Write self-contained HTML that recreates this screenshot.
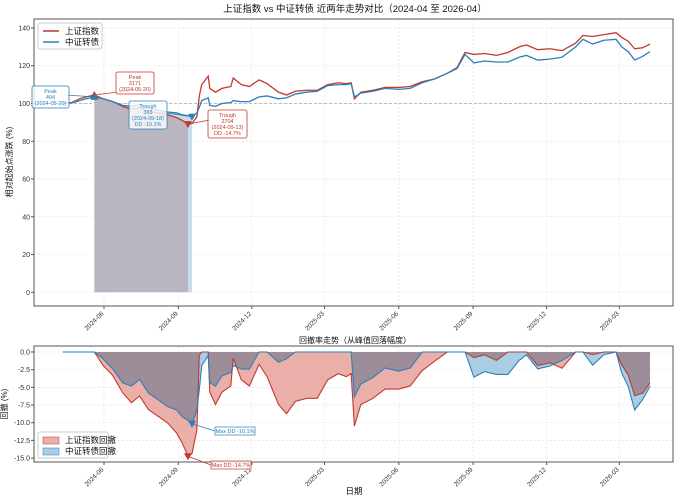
<!DOCTYPE html>
<html><head><meta charset="utf-8"><style>
body{margin:0;background:#fff}
svg{display:block;font-family:"Liberation Sans","Noto Sans CJK SC",sans-serif}
</style></head><body>
<svg id="c" width="683" height="500" viewBox="0 0 683 500"></svg>
<script>
const dates=["2024-04-11","2024-04-22","2024-05-02","2024-05-10","2024-05-20","2024-05-31","2024-06-12","2024-06-24","2024-07-05","2024-07-15","2024-07-26","2024-08-07","2024-08-19","2024-08-30","2024-09-06","2024-09-13","2024-09-18","2024-09-24","2024-09-27","2024-09-30","2024-10-08","2024-10-10","2024-10-17","2024-10-25","2024-11-05","2024-11-08","2024-11-18","2024-11-28","2024-12-10","2024-12-20","2025-01-03","2025-01-13","2025-01-24","2025-02-07","2025-02-20","2025-03-05","2025-03-18","2025-03-28","2025-04-03","2025-04-07","2025-04-15","2025-04-30","2025-05-15","2025-06-01","2025-06-15","2025-06-30","2025-07-15","2025-07-31","2025-08-12","2025-08-22","2025-09-02","2025-09-15","2025-09-30","2025-10-14","2025-10-28","2025-11-06","2025-11-20","2025-12-05","2025-12-20","2026-01-06","2026-01-15","2026-01-27","2026-02-10","2026-02-25","2026-03-04","2026-03-12","2026-03-20","2026-03-30","2026-04-08"];
const shIndex=[100,100.5,102.5,103.5,104.5,102.5,101,98.5,97,98,96,95,94,92.5,91,89.1,89.5,93,104,110,114.5,108,106,108,109,113.5,110,109,112.5,110.5,106,104.5,106.5,107,107,110,111,110.5,111,102.5,106,107,108.5,108.5,109,111.5,113,116,119,127,126,126.5,125.5,127,130,131,128.5,129,128,132,136,135.5,136.5,137.5,135,133,129,129.5,131.5];
const cbIndex=[100,100.3,101.5,102.5,103.5,102.5,101,99,98.5,99.5,97.5,96.5,95.5,95,94,93.5,93,95,98,101.5,103,99,98.5,100,100.5,101.5,101,101,103.5,104,102.5,103,105,106,106.5,109.5,110,110,110.5,103.5,105.5,106.5,108,107.5,108,111,113,116,118.5,126,121.5,122.5,122,122,124.5,125.5,123,123.5,124.5,130,134,131.5,133.5,134,130,127.5,123,125,127.5];
const topTicks=[0,20,40,60,80,100,120,140];
const ddTicks=[0,-2.5,-5,-7.5,-10,-12.5,-15];
const xTickLabels=["2024-06","2024-09","2024-12","2025-03","2025-06","2025-09","2025-12","2026-03"];

const NS="http://www.w3.org/2000/svg",svg=document.getElementById('c');
function el(t,a,p){const e=document.createElementNS(NS,t);for(const k in a)e.setAttribute(k,a[k]);(p||svg).appendChild(e);return e;}
const day0=Date.parse("2024-06-01");
function X(d){return 104+(Date.parse(d)-day0)/864e5*0.8077;}
function YT(v){return 292.3-v*1.888;}
function YB(v){return 352-v*(-7.07)*-1;}
function YD(v){return 352-v*7.07*-1*-1;}
// YD: dd value (negative) -> pixel
function yd(v){return 352-v*7.07;}
const RED="#c0392b",BLUE="#2a80b9";
const L={x0:34,x1:673,t0:19,t1:306,b0:346,b1:462};

// grids
for(const t of xTickLabels){const x=X(t+"-01");
 for(const [a,b] of [[L.t0,L.t1],[L.b0,L.b1]]){const g=el('line',{x1:x,x2:x,y1:a,y2:b,stroke:'#e4e4e4','stroke-dasharray':'2,2','stroke-width':0.7});}}
topTicks.forEach(v=>{const g=el('line',{x1:L.x0,x2:L.x1,y1:YT(v),y2:YT(v),stroke:'#e4e4e4','stroke-dasharray':'2,2','stroke-width':0.7});});
ddTicks.forEach(v=>{const g=el('line',{x1:L.x0,x2:L.x1,y1:yd(v),y2:yd(v),stroke:'#e4e4e4','stroke-dasharray':'2,2','stroke-width':0.7});});
const ref=el('line',{x1:L.x0,x2:L.x1,y1:YT(100),y2:YT(100),stroke:'#aaa','stroke-dasharray':'3,2','stroke-width':0.8});


// peak/trough
function stats(arr){let pk=0,pi=0,best=0,bp=0,bt=0;arr.forEach((v,i)=>{if(v>pk){pk=v;pi=i;}const dd=(v/pk-1)*100;if(dd<best){best=dd;bp=pi;bt=i;}});return{best,bp,bt};}
function ddSeries(arr){let pk=-1;return arr.map(v=>{pk=Math.max(pk,v);return (v/pk-1)*100;});}
const sS=stats(shIndex),sC=stats(cbIndex);

// top fills
const gTop=el('g',{style:'isolation:isolate'});

function regionFill(arr,s,col,name){let p=[];for(let i=s.bp;i<=s.bt;i++)p.push(X(dates[i])+','+YT(arr[i]));p.push(X(dates[s.bt])+','+YT(0));p.push(X(dates[s.bp])+','+YT(0));const f=el('polygon',{points:p.join(' '),fill:col,style:'mix-blend-mode:multiply'},gTop);}
regionFill(cbIndex,sC,'#c8dcea','cb-drawdown-region');
regionFill(shIndex,sS,'#ecd3d4','sh-drawdown-region');

// lines top
function line(arr,col,name){const l=el('polyline',{points:arr.map((v,i)=>X(dates[i])+','+YT(v)).join(' '),fill:'none',stroke:col,'stroke-width':1.3});}
line(shIndex,RED,'sh-index-line');line(cbIndex,BLUE,'cb-index-line');

// bottom fills
const ddS=ddSeries(shIndex),ddC=ddSeries(cbIndex);
const gB=el('g',{style:'isolation:isolate'});

function ddFill(arr,col,name){const p=arr.map((v,i)=>X(dates[i])+','+yd(v));p.push(X(dates[dates.length-1])+','+yd(0));p.push(X(dates[0])+','+yd(0));const f=el('polygon',{points:p.join(' '),fill:col,style:'mix-blend-mode:multiply'},gB);}
ddFill(ddS,'#ebafaa','sh-drawdown-area');ddFill(ddC,'#aacde6','cb-drawdown-area');
function ddLine(arr,col,name){const l=el('polyline',{points:arr.map((v,i)=>X(dates[i])+','+yd(v)).join(' '),fill:'none',stroke:col,'stroke-width':1.1});}
ddLine(ddS,RED,'sh-drawdown-line');ddLine(ddC,BLUE,'cb-drawdown-line');

// frames
[[L.t0,L.t1,'top-axes-frame'],[L.b0,L.b1,'bottom-axes-frame']].forEach(([a,b,n])=>{const r=el('rect',{x:L.x0,y:a,width:L.x1-L.x0,height:b-a,fill:'none',stroke:'#555','stroke-width':1});});

function txt(s,a,name){const t=el('text',Object.assign({'font-size':7,fill:'#333'},a));t.textContent=s;return t;}
topTicks.forEach(v=>{txt(String(v),{x:30,y:YT(v)+2.5,'text-anchor':'end'},'y-tick-label');el('line',{x1:31,x2:34,y1:YT(v),y2:YT(v),stroke:'#555'});});
ddTicks.forEach(v=>{txt(v.toFixed(1),{x:30,y:yd(v)+2.5,'text-anchor':'end'},'dd-y-tick-label');el('line',{x1:31,x2:34,y1:yd(v),y2:yd(v),stroke:'#555'});});
xTickLabels.forEach(t=>{const x=X(t+"-01");
 [[L.t1,'x-tick-label'],[L.b1,'dd-x-tick-label']].forEach(([y,n])=>{el('line',{x1:x,x2:x,y1:y,y2:y+3,stroke:'#555'});txt(t,{x:x,y:y+8,'text-anchor':'end','font-size':6.5,transform:`rotate(-45 ${x} ${y+8})`},n);});});

txt('上证指数 vs 中证转债 近两年走势对比（2024-04 至 2026-04）',{x:355,y:12,'text-anchor':'middle','font-size':9.5,fill:'#111'},'chart-title');
txt('回撤率走势（从峰值回落幅度）',{x:355,y:343,'text-anchor':'middle','font-size':8,fill:'#111'},'drawdown-title');
txt('相对起始点涨跌 (%)',{x:12,y:162,'text-anchor':'middle','font-size':8,fill:'#111',transform:'rotate(-90 12 162)'},'y-axis-title');
txt('回撤 (%)',{x:7,y:404,'text-anchor':'middle','font-size':8,fill:'#111',transform:'rotate(-90 7 404)'},'dd-y-axis-title');
txt('日期',{x:354,y:494,'text-anchor':'middle','font-size':8.5,fill:'#111'},'x-axis-title');

// legends
function legend(x,y,w,items,patch,name){const g=el('g',{});el('rect',{x,y,width:w,height:26,rx:2,fill:'#fff','fill-opacity':0.85,stroke:'#ccc'},g);
 items.forEach((it,i)=>{const yy=y+8+i*11;if(patch)el('rect',{x:x+5,y:yy-3,width:16,height:7,fill:it[2],stroke:it[1],'stroke-width':0.5},g);else el('line',{x1:x+5,x2:x+21,y1:yy,y2:yy,stroke:it[1],'stroke-width':1.5},g);const t=el('text',{x:x+27,y:yy+3,'font-size':8.5,fill:'#111'},g);t.textContent=it[0];});}
legend(38,23,64,[['上证指数',RED],['中证转债',BLUE]],false,'top-legend');
legend(38,432,70,[['上证指数回撤',RED,'#ebafaa'],['中证转债回撤',BLUE,'#aacde6']],true,'dd-legend');

// markers & annotations
function tri(x,y,up,col,name){const p=up?`${x-4},${y+3} ${x+4},${y+3} ${x},${y-4}`:`${x-4},${y-3} ${x+4},${y-3} ${x},${y+4}`;const m=el('polygon',{points:p,fill:col});}
function box(x,y,w,lines,col,name,ax,ay,bx,by){el('line',{x1:bx,y1:by,x2:ax,y2:ay,stroke:col,'stroke-width':0.8});const g=el('g',{});
 el('rect',{x,y,width:w,height:lines.length*6+4,rx:2,fill:'#fff','fill-opacity':0.8,stroke:col,'stroke-width':0.8},g);
 lines.forEach((s,i)=>{const t=el('text',{x:x+w/2,y:y+7+i*6,'text-anchor':'middle','font-size':5.5,fill:col},g);t.textContent=s;});}
const pxS=X(dates[sS.bp]),pyS=YT(shIndex[sS.bp]),txS=X(dates[sS.bt]),tyS=YT(shIndex[sS.bt]);
const pxC=X(dates[sC.bp]),pyC=YT(cbIndex[sC.bp]),txC=X(dates[sC.bt]),tyC=YT(cbIndex[sC.bt]);
box(116,72,38,['Peak','3171','('+dates[sS.bp]+')'],RED,'sh-peak-annotation',pxS,pyS,135,90);
box(32,86,37,['Peak','404','('+dates[sC.bp]+')'],BLUE,'cb-peak-annotation',pxC,pyC,65,95);
box(129,101,38,['Trough','363','('+dates[sC.bt]+')','DD '+sC.best.toFixed(1)+'%'],BLUE,'cb-trough-annotation',txC,tyC,160,112);
box(208,110,39,['Trough','2704','('+dates[sS.bt]+')','DD '+sS.best.toFixed(1)+'%'],RED,'sh-trough-annotation',txS,tyS,210,120);
tri(pxS,pyS,true,RED,'sh-peak-marker');tri(pxC,pyC,true,BLUE,'cb-peak-marker');
tri(txS,tyS,false,RED,'sh-trough-marker');tri(txC,tyC,false,BLUE,'cb-trough-marker');
const mxC=X(dates[sC.bt]),myC=yd(ddC[sC.bt]),mxS=X(dates[sS.bt]),myS=yd(ddS[sS.bt]);
function smallBox(x,y,s,col,name,ax,ay){el('line',{x1:x,y1:y+4,x2:ax,y2:ay,stroke:col,'stroke-width':0.8});const g=el('g',{});el('rect',{x,y,width:40,height:8,fill:'#fff','fill-opacity':0.8,stroke:col,'stroke-width':0.7},g);const t=el('text',{x:x+20,y:y+6,'text-anchor':'middle','font-size':5.5,fill:col},g);t.textContent=s;}
smallBox(215,427,'Max DD '+sC.best.toFixed(1)+'%',BLUE,'cb-max-dd-label',mxC,myC);
smallBox(211,461,'Max DD '+sS.best.toFixed(1)+'%',RED,'sh-max-dd-label',mxS,myS);
tri(mxC,myC,false,BLUE,'cb-max-dd-marker');tri(mxS,myS,false,RED,'sh-max-dd-marker');
</script>
</body></html>
